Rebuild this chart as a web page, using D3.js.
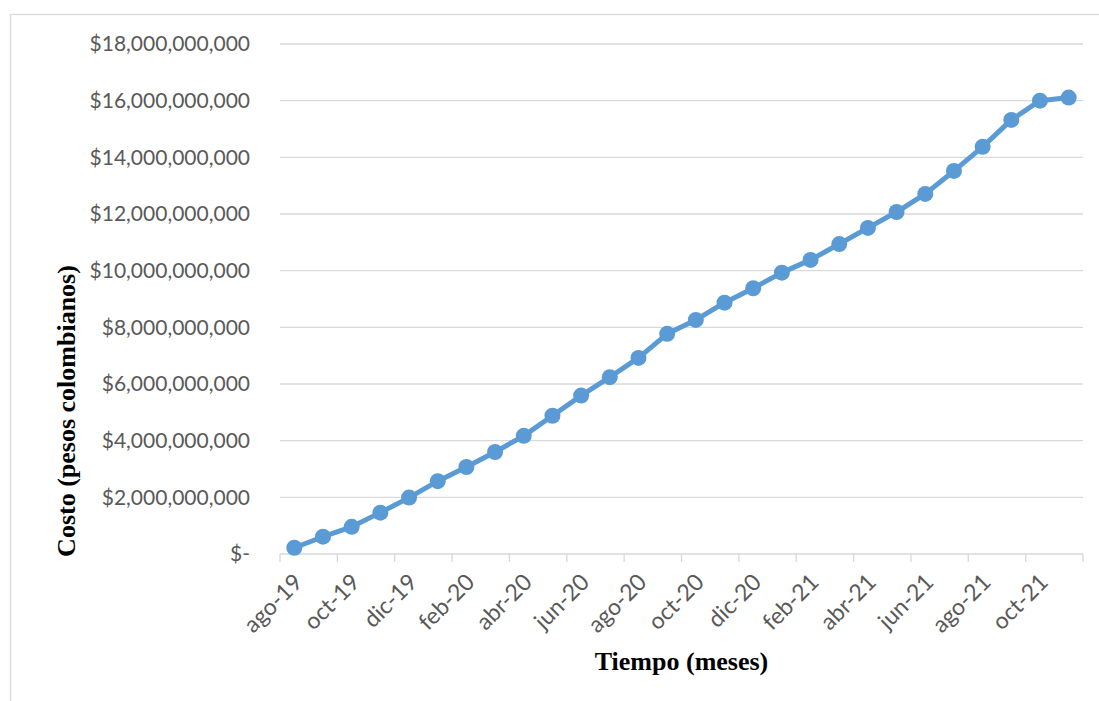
<!DOCTYPE html>
<html>
<head>
<meta charset="utf-8">
<script src="https://cdn.jsdelivr.net/npm/d3@7"></script>
<style>
  body { margin: 0; background: #fff; }
</style>
</head>
<body>
<div id="chart"></div>
<script>
// Months (categories) and cumulative cost in pesos
const MESES = ['ago-19', 'sep-19', 'oct-19', 'nov-19', 'dic-19', 'ene-20', 'feb-20', 'mar-20',
    'abr-20', 'may-20', 'jun-20', 'jul-20', 'ago-20', 'sep-20', 'oct-20', 'nov-20',
    'dic-20', 'ene-21', 'feb-21', 'mar-21', 'abr-21', 'may-21', 'jun-21', 'jul-21',
    'ago-21', 'sep-21', 'oct-21', 'nov-21'];
const COSTO = [0.22e9, 0.61e9, 0.96e9, 1.46e9, 1.99e9, 2.57e9, 3.07e9, 3.60e9,
    4.17e9, 4.88e9, 5.59e9, 6.24e9, 6.92e9, 7.77e9, 8.26e9, 8.87e9,
    9.38e9, 9.93e9, 10.38e9, 10.94e9, 11.51e9, 12.07e9, 12.71e9, 13.52e9,
    14.37e9, 15.32e9, 16.00e9, 16.11e9];
const Y_TICKS = [0, 2e9, 4e9, 6e9, 8e9, 10e9, 12e9, 14e9, 16e9, 18e9];

const W = 1099, H = 701;
const plotLeft = 280, plotRight = 1083, plotTop = 44, plotBottom = 554;
const GRID = '#d9d9d9';
const LINE = '#5b9bd5';
const LABEL_FONT = 'Lato, "Open Sans", sans-serif';
const TITLE_FONT = '"Liberation Serif", "Times New Roman", serif';

const svg = d3.select('#chart').append('svg')
    .attr('width', W)
    .attr('height', H);

// chart frame (runs off right and bottom edge)
svg.append('rect')
    .attr('x', 10.5).attr('y', 14.5)
    .attr('width', 1100).attr('height', 700)
    .attr('fill', 'none')
    .attr('stroke', GRID)
    .attr('stroke-width', 1.3);

const x = d3.scaleBand().domain(MESES).range([plotLeft, plotRight]).padding(0);
const y = d3.scaleLinear().domain([0, 18e9]).range([plotBottom, plotTop]);

// horizontal gridlines
svg.append('g')
    .selectAll('line')
    .data(Y_TICKS.filter(d => d > 0))
    .enter()
    .append('line')
    .attr('x1', plotLeft).attr('x2', plotRight)
    .attr('y1', d => y(d)).attr('y2', d => y(d))
    .attr('stroke', GRID)
    .attr('stroke-width', 1.3);

// y axis labels
const fmt = d3.format(',');
const yAxis = d3.axisLeft(y)
    .tickValues(Y_TICKS)
    .tickSize(0)
    .tickPadding(30)
    .tickFormat(d => d === 0 ? '$-' : '$' + fmt(d));
const gy = svg.append('g').attr('transform', `translate(${plotLeft},0)`).call(yAxis);
gy.select('.domain').remove();
gy.selectAll('text')
    .attr('fill', '#595959')
    .style('font-family', LABEL_FONT)
    .style('font-size', '21px');

// x axis baseline + tick marks every two months
svg.append('line')
    .attr('x1', plotLeft).attr('x2', plotRight)
    .attr('y1', plotBottom).attr('y2', plotBottom)
    .attr('stroke', GRID)
    .attr('stroke-width', 1.3);

const tickX = MESES.filter((d, i) => i % 2 === 0).map(d => x(d)).concat([plotRight]);
svg.append('g')
    .selectAll('line')
    .data(tickX)
    .enter()
    .append('line')
    .attr('x1', d => d).attr('x2', d => d)
    .attr('y1', plotBottom).attr('y2', plotBottom + 8)
    .attr('stroke', GRID)
    .attr('stroke-width', 1.3);

// rotated month labels (every second month)
svg.append('g')
    .selectAll('text')
    .data(MESES.filter((d, i) => i % 2 === 0))
    .enter()
    .append('text')
    .attr('transform', d => `translate(${x(d) + x.bandwidth() / 2 - 2},${plotBottom + 18}) rotate(-45)`)
    .attr('text-anchor', 'end')
    .attr('dy', '0.71em')
    .attr('fill', '#595959')
    .style('font-family', LABEL_FONT)
    .style('font-size', '23px')
    .text(d => d);

// line + markers
const line = d3.line()
    .x((d, i) => x(MESES[i]) + x.bandwidth() / 2)
    .y(d => y(d));

svg.append('path')
    .datum(COSTO)
    .attr('d', line)
    .attr('fill', 'none')
    .attr('stroke', LINE)
    .attr('stroke-width', 5)
    .attr('stroke-linejoin', 'round');

svg.append('g')
    .selectAll('circle')
    .data(COSTO)
    .enter()
    .append('circle')
    .attr('cx', (d, i) => x(MESES[i]) + x.bandwidth() / 2)
    .attr('cy', d => y(d))
    .attr('r', 8)
    .attr('fill', LINE);

// axis titles
svg.append('text')
    .attr('x', (plotLeft + plotRight) / 2)
    .attr('y', 670)
    .attr('text-anchor', 'middle')
    .style('font-family', TITLE_FONT)
    .style('font-weight', 'bold')
    .style('font-size', '26px')
    .text('Tiempo (meses)');

svg.append('text')
    .attr('transform', 'translate(75,411) rotate(-90)')
    .attr('text-anchor', 'middle')
    .style('font-family', TITLE_FONT)
    .style('font-weight', 'bold')
    .style('font-size', '26px')
    .text('Costo (pesos colombianos)');
</script>
</body>
</html>
